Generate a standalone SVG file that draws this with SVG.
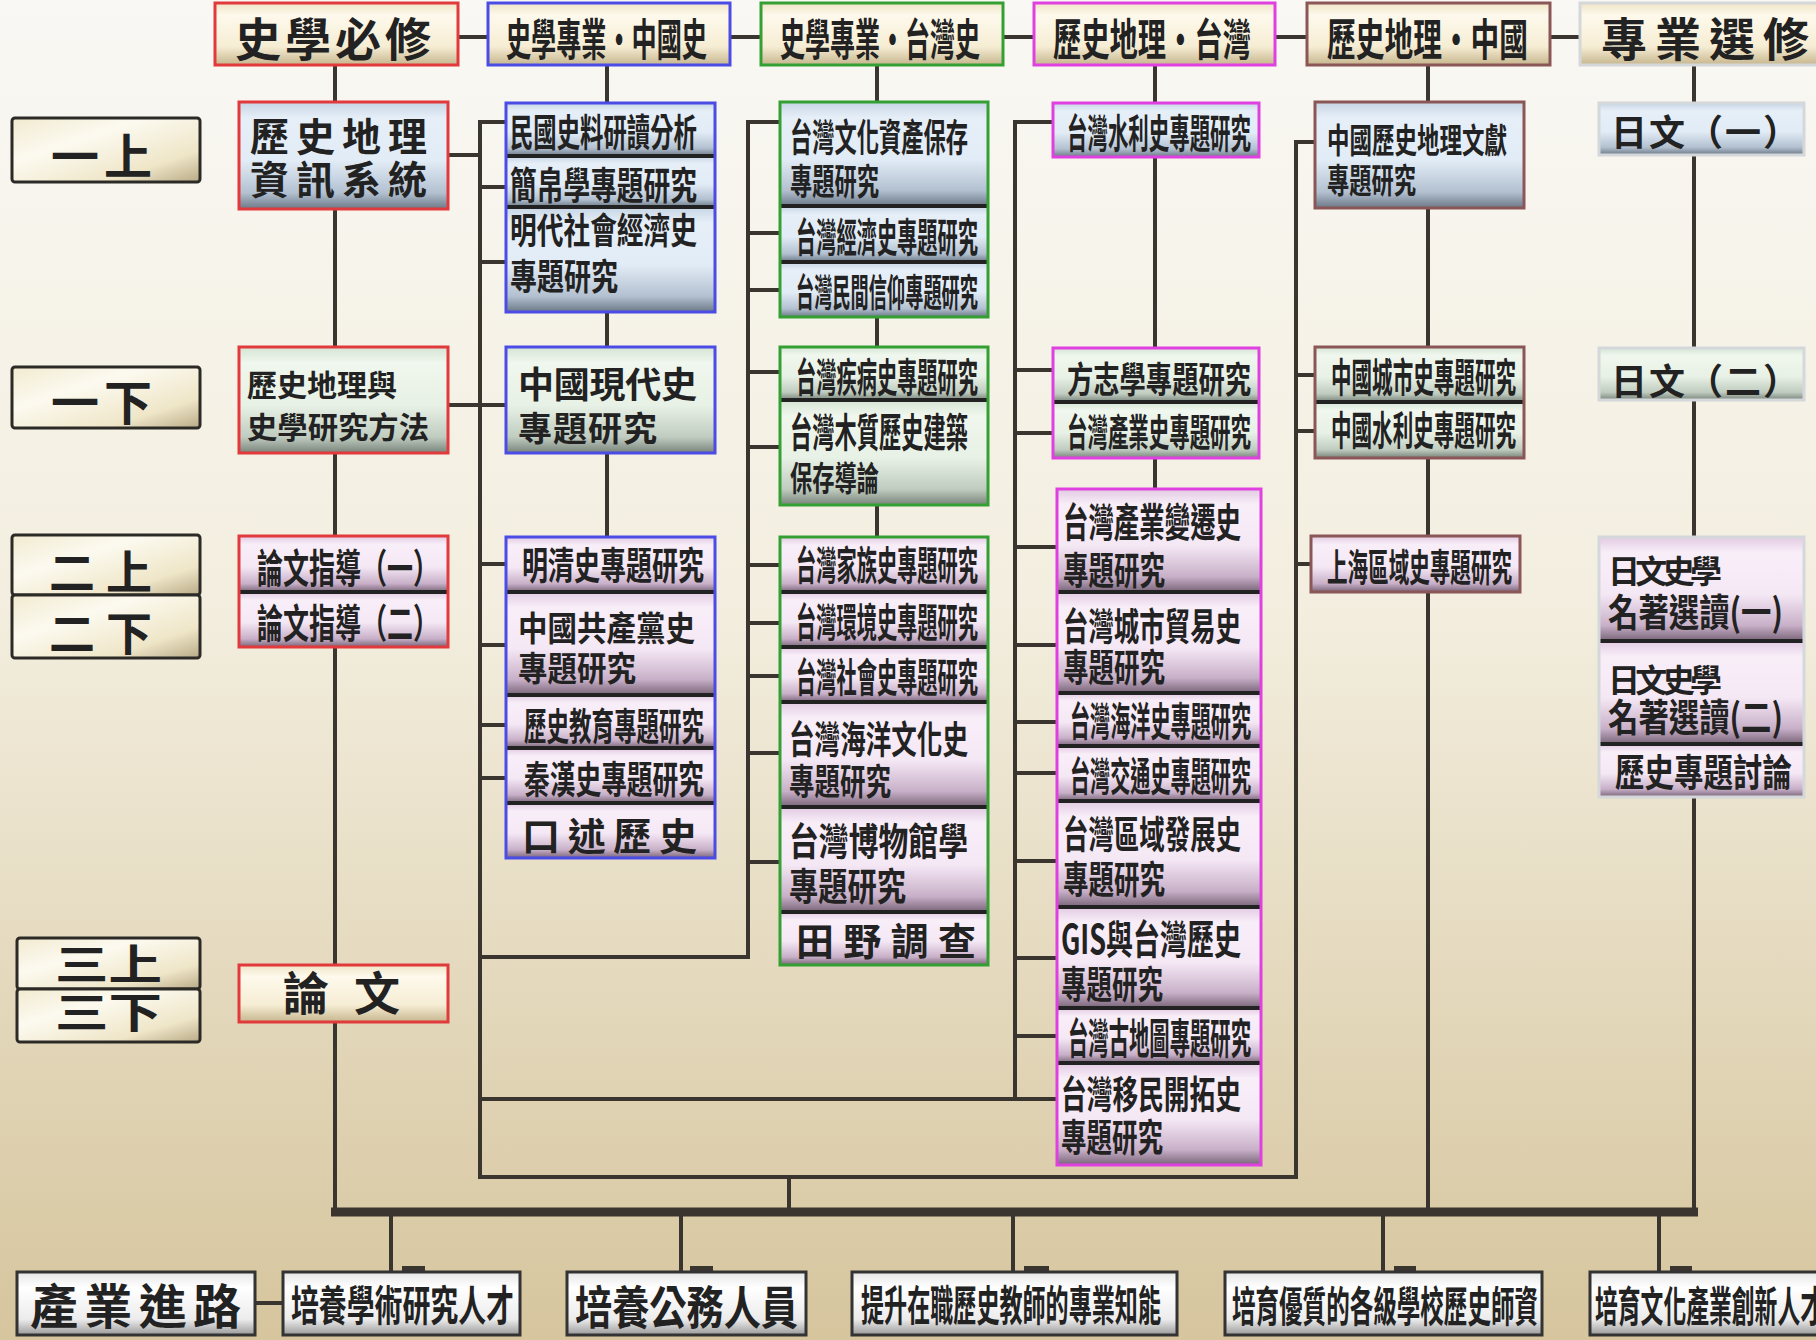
<svg xmlns="http://www.w3.org/2000/svg" width="1816" height="1340" viewBox="0 0 1816 1340">
<defs>
<linearGradient id="gBg" x1="0" y1="0" x2="0" y2="1">
<stop offset="0" stop-color="#f9f8f4"/><stop offset="0.45" stop-color="#f3eedf"/><stop offset="1" stop-color="#d6c59d"/>
</linearGradient>
<linearGradient id="gBlue" x1="0" y1="0" x2="0" y2="1">
<stop offset="0" stop-color="#c6d4e4"/><stop offset="0.15" stop-color="#e6eff8"/><stop offset="0.55" stop-color="#e2ecf6"/><stop offset="0.85" stop-color="#b2c0d0"/><stop offset="1" stop-color="#6c7886"/>
</linearGradient>
<linearGradient id="gGreen" x1="0" y1="0" x2="0" y2="1">
<stop offset="0" stop-color="#d4e4d4"/><stop offset="0.15" stop-color="#f0f7ee"/><stop offset="0.55" stop-color="#e8f1e6"/><stop offset="0.85" stop-color="#c0ccc0"/><stop offset="1" stop-color="#78847a"/>
</linearGradient>
<linearGradient id="gPink" x1="0" y1="0" x2="0" y2="1">
<stop offset="0" stop-color="#e2cae2"/><stop offset="0.15" stop-color="#f8eef8"/><stop offset="0.55" stop-color="#f5e8f5"/><stop offset="0.85" stop-color="#c8b0c8"/><stop offset="1" stop-color="#786478"/>
</linearGradient>
<linearGradient id="gCream" x1="0" y1="0" x2="0" y2="1">
<stop offset="0" stop-color="#efe4c6"/><stop offset="0.2" stop-color="#fdf9ec"/><stop offset="0.7" stop-color="#f6edd4"/><stop offset="1" stop-color="#c6b68e"/>
</linearGradient>
<linearGradient id="gYear" x1="0" y1="0" x2="1" y2="1">
<stop offset="0" stop-color="#f2ead0"/><stop offset="0.35" stop-color="#fcfaf0"/><stop offset="0.75" stop-color="#efe6c8"/><stop offset="1" stop-color="#b8aa86"/>
</linearGradient>
<linearGradient id="gWhite" x1="0" y1="0" x2="0" y2="1">
<stop offset="0" stop-color="#e6e6e6"/><stop offset="0.25" stop-color="#ffffff"/><stop offset="0.75" stop-color="#ececec"/><stop offset="1" stop-color="#9a9a9a"/>
</linearGradient>
</defs>
<style>
.t{font-family:"Noto Sans CJK TC","Noto Sans CJK SC",sans-serif;font-weight:700;fill:#222}
.blue{fill:url(#gBlue)}
.green{fill:url(#gGreen)}
.pink{fill:url(#gPink)}
.cream{fill:url(#gCream)}
.year{fill:url(#gYear);stroke:#2c2a26;stroke-width:3}
.white{fill:url(#gWhite);stroke:#333;stroke-width:3}
.div{stroke:#222;stroke-width:4;fill:none}
.bR{fill:none;stroke:#e23a3c;stroke-width:3}
.bB{fill:none;stroke:#4b4be6;stroke-width:3}
.bG{fill:none;stroke:#34a034;stroke-width:3}
.bM{fill:none;stroke:#e040e0;stroke-width:3}
.bN{fill:none;stroke:#8a5656;stroke-width:3}
.bL{fill:none;stroke:#d4d8da;stroke-width:3}
.ln{fill:none;stroke:#3a352e;stroke-width:4}
.bus{fill:none;stroke:#3a352e;stroke-width:9}
.tab{fill:#3a352e}
</style>
<rect x="0" y="0" width="1816" height="1340" fill="url(#gBg)"/>

<g id="connectors">
<path class="ln" d="M458 37H488M730 37H761M1003 37H1034M1275 37H1307M1550 37H1580"/>
<path class="ln" d="M335 65V102M335 209V347M335 453V536M335 647V965M335 1022V1212"/>
<path class="ln" d="M607 65V103M607 312V347M607 453V537"/>
<path class="ln" d="M877 65V102M877 317V347M877 505V537"/>
<path class="ln" d="M1155 65V103M1155 157V348M1155 458V489"/>
<path class="ln" d="M1428 65V102M1428 208V347M1428 458V536M1428 592V1212"/>
<path class="ln" d="M1694 65V103M1694 155V348M1694 400V537M1694 797V1212"/>
<path class="ln" d="M448 155H480M448 405H506"/>
<path class="ln" d="M506 122H480V1177H1296V142H1315"/>
<path class="ln" d="M480 187H506M480 262H506M480 564H506M480 645H506M480 725H506M480 778H506"/>
<path class="ln" d="M480 957H748V122H780"/>
<path class="ln" d="M748 233H780M748 290H780M748 372H780M748 447H780M748 565H780M748 623H780M748 676H780M748 753H780M748 862H780"/>
<path class="ln" d="M480 1099H1057M1015 1099V122H1053"/>
<path class="ln" d="M1015 370H1053M1015 433H1053M1015 547H1057M1015 645H1057M1015 722H1057M1015 773H1057M1015 861H1057M1015 958H1057M1015 1036H1057"/>
<path class="ln" d="M1296 375H1315M1296 431H1315M1296 564H1311"/>
<path class="ln" d="M789 1177V1212"/>
<path class="bus" d="M331 1212H1698"/>
<path class="ln" d="M391 1212V1272M681 1212V1272M1013 1212V1272M1383 1212V1272M1659 1212V1272"/>
<path class="ln" d="M255 1303H283"/>
<rect class="tab" x="402" y="1266" width="23" height="6"/>
<rect class="tab" x="690" y="1266" width="23" height="6"/>
<rect class="tab" x="1024" y="1266" width="25" height="6"/>
<rect class="tab" x="1394" y="1266" width="22" height="6"/>
<rect class="tab" x="1670" y="1266" width="22" height="6"/>
</g>

<!-- headers -->
<g id="h1"><rect class="cream" x="215" y="3" width="243" height="62"/><rect class="bR" x="215" y="3" width="243" height="62"/>
<text class="t" x="235" y="56" font-size="46" textLength="196" lengthAdjust="spacing">史學必修</text></g>
<g id="h2"><rect class="cream" x="488" y="3" width="242" height="62"/><rect class="bB" x="488" y="3" width="242" height="62"/>
<text class="t" x="506" y="56" font-size="44" textLength="201" lengthAdjust="spacingAndGlyphs">史學專業・中國史</text></g>
<g id="h3"><rect class="cream" x="761" y="3" width="242" height="62"/><rect class="bG" x="761" y="3" width="242" height="62"/>
<text class="t" x="780" y="56" font-size="44" textLength="200" lengthAdjust="spacingAndGlyphs">史學專業・台灣史</text></g>
<g id="h4"><rect class="cream" x="1034" y="3" width="241" height="62"/><rect class="bM" x="1034" y="3" width="241" height="62"/>
<text class="t" x="1053" y="56" font-size="44" textLength="198" lengthAdjust="spacingAndGlyphs">歷史地理・台灣</text></g>
<g id="h5"><rect class="cream" x="1307" y="3" width="243" height="62"/><rect class="bN" x="1307" y="3" width="243" height="62"/>
<text class="t" x="1327" y="56" font-size="44" textLength="201" lengthAdjust="spacingAndGlyphs">歷史地理・中國</text></g>
<g id="h6"><rect class="cream" x="1580" y="3" width="250" height="62"/><rect class="bL" x="1580" y="3" width="250" height="62"/>
<text class="t" x="1601" y="56" font-size="46" textLength="208" lengthAdjust="spacing">專業選修</text></g>

<!-- year labels -->
<g id="y1"><rect class="year" x="12" y="118" width="188" height="64" rx="3"/>
<text class="t" x="51" y="174" font-size="48" textLength="101" lengthAdjust="spacing">一上</text></g>
<g id="y2"><rect class="year" x="12" y="367" width="188" height="61" rx="3"/>
<text class="t" x="51" y="420" font-size="48" textLength="101" lengthAdjust="spacing">一下</text></g>
<g id="y3"><rect class="year" x="12" y="535" width="188" height="60" rx="3"/><rect class="year" x="12" y="595" width="188" height="63" rx="3"/>
<text class="t" x="49" y="589" font-size="46" textLength="103" lengthAdjust="spacing">二上</text>
<text class="t" x="49" y="650" font-size="46" textLength="103" lengthAdjust="spacing">二下</text></g>
<g id="y4"><rect class="year" x="17" y="938" width="183" height="51" rx="3"/><rect class="year" x="17" y="989" width="183" height="53" rx="3"/>
<text class="t" x="55" y="980" font-size="42" textLength="107" lengthAdjust="spacingAndGlyphs">三上</text>
<text class="t" x="55" y="1028" font-size="42" textLength="107" lengthAdjust="spacingAndGlyphs">三下</text></g>

<!-- column 1 -->
<g id="c1n1"><rect class="blue" x="239" y="102" width="209" height="107"/><rect class="bR" x="239" y="102" width="209" height="107"/>
<text class="t" x="250" y="151" font-size="39" textLength="177" lengthAdjust="spacing">歷史地理</text>
<text class="t" x="250" y="194" font-size="39" textLength="177" lengthAdjust="spacing">資訊系統</text></g>
<g id="c1n2"><rect class="green" x="239" y="347" width="209" height="106"/><rect class="bR" x="239" y="347" width="209" height="106"/>
<text class="t" x="247" y="396" font-size="30" textLength="150" lengthAdjust="spacingAndGlyphs">歷史地理與</text>
<text class="t" x="247" y="438" font-size="30" textLength="182" lengthAdjust="spacingAndGlyphs">史學研究方法</text></g>
<g id="c1n3"><rect class="pink" x="239" y="536" width="209" height="56"/><rect class="pink" x="239" y="592" width="209" height="55"/>
<path class="div" d="M239 592H448"/><rect class="bR" x="239" y="536" width="209" height="111"/>
<text class="t" x="257" y="583" font-size="40" textLength="182" lengthAdjust="spacingAndGlyphs">論文指導（一）</text>
<text class="t" x="257" y="638" font-size="40" textLength="182" lengthAdjust="spacingAndGlyphs">論文指導（二）</text></g>
<g id="c1n4"><rect class="cream" x="239" y="965" width="209" height="57"/><rect class="bR" x="239" y="965" width="209" height="57"/>
<text class="t" x="283" y="1010" font-size="46" textLength="117" lengthAdjust="spacing">論文</text></g>

<!-- column 2 -->
<g id="c2g1"><rect class="blue" x="506" y="103" width="209" height="53"/><rect class="blue" x="506" y="156" width="209" height="51"/><rect class="blue" x="506" y="207" width="209" height="105"/>
<path class="div" d="M506 156H715M506 207H715"/><rect class="bB" x="506" y="103" width="209" height="209"/>
<text class="t" x="510" y="146" font-size="38" textLength="187" lengthAdjust="spacingAndGlyphs">民國史料研讀分析</text>
<text class="t" x="510" y="199" font-size="38" textLength="187" lengthAdjust="spacingAndGlyphs">簡帛學專題研究</text>
<text class="t" x="510" y="244" font-size="36" textLength="187" lengthAdjust="spacingAndGlyphs">明代社會經濟史</text>
<text class="t" x="510" y="290" font-size="36" textLength="108" lengthAdjust="spacingAndGlyphs">專題研究</text></g>
<g id="c2n2"><rect class="green" x="506" y="347" width="209" height="106"/><rect class="bB" x="506" y="347" width="209" height="106"/>
<text class="t" x="518" y="398" font-size="36" textLength="179" lengthAdjust="spacing">中國現代史</text>
<text class="t" x="518" y="441" font-size="34" textLength="139" lengthAdjust="spacing">專題研究</text></g>
<g id="c2g3"><rect class="pink" x="506" y="537" width="209" height="55"/><rect class="pink" x="506" y="592" width="209" height="103"/><rect class="pink" x="506" y="695" width="209" height="53"/><rect class="pink" x="506" y="748" width="209" height="55"/><rect class="pink" x="506" y="803" width="209" height="55"/>
<path class="div" d="M506 592H715M506 695H715M506 748H715M506 803H715"/><rect class="bB" x="506" y="537" width="209" height="321"/>
<text class="t" x="522" y="579" font-size="38" textLength="182" lengthAdjust="spacingAndGlyphs">明清史專題研究</text>
<text class="t" x="518" y="641" font-size="34" textLength="177" lengthAdjust="spacingAndGlyphs">中國共產黨史</text>
<text class="t" x="518" y="681" font-size="34" textLength="118" lengthAdjust="spacingAndGlyphs">專題研究</text>
<text class="t" x="524" y="740" font-size="38" textLength="180" lengthAdjust="spacingAndGlyphs">歷史教育專題研究</text>
<text class="t" x="524" y="793" font-size="38" textLength="180" lengthAdjust="spacingAndGlyphs">秦漢史專題研究</text>
<text class="t" x="522" y="850" font-size="38" textLength="175" lengthAdjust="spacing">口述歷史</text></g>

<!-- column 3 -->
<g id="c3g1"><rect class="blue" x="780" y="102" width="208" height="104"/><rect class="blue" x="780" y="206" width="208" height="56"/><rect class="blue" x="780" y="262" width="208" height="55"/>
<path class="div" d="M780 206H988M780 262H988"/><rect class="bG" x="780" y="102" width="208" height="215"/>
<text class="t" x="790" y="151" font-size="38" textLength="178" lengthAdjust="spacingAndGlyphs">台灣文化資產保存</text>
<text class="t" x="790" y="195" font-size="36" textLength="89" lengthAdjust="spacingAndGlyphs">專題研究</text>
<text class="t" x="796" y="252" font-size="40" textLength="182" lengthAdjust="spacingAndGlyphs">台灣經濟史專題研究</text>
<text class="t" x="796" y="306" font-size="38" textLength="182" lengthAdjust="spacingAndGlyphs">台灣民間信仰專題研究</text></g>
<g id="c3g2"><rect class="green" x="780" y="347" width="208" height="53"/><rect class="green" x="780" y="400" width="208" height="105"/>
<path class="div" d="M780 400H988"/><rect class="bG" x="780" y="347" width="208" height="158"/>
<text class="t" x="796" y="392" font-size="40" textLength="182" lengthAdjust="spacingAndGlyphs">台灣疾病史專題研究</text>
<text class="t" x="790" y="447" font-size="40" textLength="178" lengthAdjust="spacingAndGlyphs">台灣木質歷史建築</text>
<text class="t" x="790" y="491" font-size="34" textLength="89" lengthAdjust="spacingAndGlyphs">保存導論</text></g>
<g id="c3g3"><rect class="pink" x="780" y="537" width="208" height="55"/><rect class="pink" x="780" y="592" width="208" height="55"/><rect class="pink" x="780" y="647" width="208" height="55"/><rect class="pink" x="780" y="702" width="208" height="105"/><rect class="pink" x="780" y="807" width="208" height="105"/><rect class="pink" x="780" y="912" width="208" height="53"/>
<path class="div" d="M780 592H988M780 647H988M780 702H988M780 807H988M780 912H988"/><rect class="bG" x="780" y="537" width="208" height="428"/>
<text class="t" x="796" y="580" font-size="40" textLength="182" lengthAdjust="spacingAndGlyphs">台灣家族史專題研究</text>
<text class="t" x="796" y="637" font-size="40" textLength="182" lengthAdjust="spacingAndGlyphs">台灣環境史專題研究</text>
<text class="t" x="796" y="692" font-size="40" textLength="182" lengthAdjust="spacingAndGlyphs">台灣社會史專題研究</text>
<text class="t" x="789" y="753" font-size="38" textLength="179" lengthAdjust="spacingAndGlyphs">台灣海洋文化史</text>
<text class="t" x="789" y="795" font-size="36" textLength="102" lengthAdjust="spacingAndGlyphs">專題研究</text>
<text class="t" x="789" y="855" font-size="38" textLength="179" lengthAdjust="spacingAndGlyphs">台灣博物館學</text>
<text class="t" x="789" y="900" font-size="38" textLength="117" lengthAdjust="spacingAndGlyphs">專題研究</text>
<text class="t" x="796" y="955" font-size="38" textLength="180" lengthAdjust="spacing">田野調查</text></g>

<!-- column 4 -->
<g id="c4n1"><rect class="blue" x="1053" y="103" width="206" height="54"/><rect class="bM" x="1053" y="103" width="206" height="54"/>
<text class="t" x="1067" y="148" font-size="40" textLength="184" lengthAdjust="spacingAndGlyphs">台灣水利史專題研究</text></g>
<g id="c4g2"><rect class="green" x="1053" y="348" width="206" height="54"/><rect class="green" x="1053" y="402" width="206" height="56"/>
<path class="div" d="M1053 402H1259"/><rect class="bM" x="1053" y="348" width="206" height="110"/>
<text class="t" x="1067" y="393" font-size="36" textLength="184" lengthAdjust="spacingAndGlyphs">方志學專題研究</text>
<text class="t" x="1067" y="446" font-size="38" textLength="184" lengthAdjust="spacingAndGlyphs">台灣產業史專題研究</text></g>
<g id="c4g3"><rect class="pink" x="1057" y="489" width="204" height="103"/><rect class="pink" x="1057" y="592" width="204" height="101"/><rect class="pink" x="1057" y="693" width="204" height="53"/><rect class="pink" x="1057" y="746" width="204" height="55"/><rect class="pink" x="1057" y="801" width="204" height="106"/><rect class="pink" x="1057" y="907" width="204" height="101"/><rect class="pink" x="1057" y="1008" width="204" height="55"/><rect class="pink" x="1057" y="1063" width="204" height="102"/>
<path class="div" d="M1057 592H1261M1057 693H1261M1057 746H1261M1057 801H1261M1057 907H1261M1057 1008H1261M1057 1063H1261"/><rect class="bM" x="1057" y="489" width="204" height="676"/>
<text class="t" x="1063" y="537" font-size="40" textLength="178" lengthAdjust="spacingAndGlyphs">台灣產業變遷史</text>
<text class="t" x="1063" y="584" font-size="38" textLength="102" lengthAdjust="spacingAndGlyphs">專題研究</text>
<text class="t" x="1063" y="640" font-size="38" textLength="178" lengthAdjust="spacingAndGlyphs">台灣城市貿易史</text>
<text class="t" x="1063" y="681" font-size="38" textLength="102" lengthAdjust="spacingAndGlyphs">專題研究</text>
<text class="t" x="1070" y="736" font-size="40" textLength="181" lengthAdjust="spacingAndGlyphs">台灣海洋史專題研究</text>
<text class="t" x="1070" y="791" font-size="40" textLength="181" lengthAdjust="spacingAndGlyphs">台灣交通史專題研究</text>
<text class="t" x="1063" y="848" font-size="38" textLength="178" lengthAdjust="spacingAndGlyphs">台灣區域發展史</text>
<text class="t" x="1063" y="893" font-size="38" textLength="102" lengthAdjust="spacingAndGlyphs">專題研究</text>
<text class="t" x="1061" y="954" font-size="40" textLength="180" lengthAdjust="spacingAndGlyphs">GIS與台灣歷史</text>
<text class="t" x="1061" y="998" font-size="38" textLength="102" lengthAdjust="spacingAndGlyphs">專題研究</text>
<text class="t" x="1068" y="1054" font-size="42" textLength="183" lengthAdjust="spacingAndGlyphs">台灣古地圖專題研究</text>
<text class="t" x="1061" y="1108" font-size="38" textLength="180" lengthAdjust="spacingAndGlyphs">台灣移民開拓史</text>
<text class="t" x="1061" y="1151" font-size="38" textLength="102" lengthAdjust="spacingAndGlyphs">專題研究</text></g>

<!-- column 5 -->
<g id="c5n1"><rect class="blue" x="1315" y="102" width="209" height="106"/><rect class="bN" x="1315" y="102" width="209" height="106"/>
<text class="t" x="1327" y="153" font-size="34" textLength="180" lengthAdjust="spacingAndGlyphs">中國歷史地理文獻</text>
<text class="t" x="1327" y="193" font-size="34" textLength="89" lengthAdjust="spacingAndGlyphs">專題研究</text></g>
<g id="c5g2"><rect class="green" x="1315" y="347" width="209" height="55"/><rect class="green" x="1315" y="402" width="209" height="56"/>
<path class="div" d="M1315 402H1524"/><rect class="bN" x="1315" y="347" width="209" height="111"/>
<text class="t" x="1331" y="392" font-size="40" textLength="185" lengthAdjust="spacingAndGlyphs">中國城市史專題研究</text>
<text class="t" x="1331" y="445" font-size="40" textLength="185" lengthAdjust="spacingAndGlyphs">中國水利史專題研究</text></g>
<g id="c5n3"><rect class="pink" x="1311" y="536" width="209" height="56"/><rect class="bN" x="1311" y="536" width="209" height="56"/>
<text class="t" x="1327" y="581" font-size="38" textLength="185" lengthAdjust="spacingAndGlyphs">上海區域史專題研究</text></g>

<!-- column 6 -->
<g id="c6n1"><rect class="blue" x="1599" y="103" width="205" height="52"/><rect class="bL" x="1599" y="103" width="205" height="52"/>
<text class="t" x="1611" y="146" font-size="36" textLength="188" lengthAdjust="spacing">日文（一）</text></g>
<g id="c6n2"><rect class="green" x="1599" y="348" width="205" height="52"/><rect class="bL" x="1599" y="348" width="205" height="52"/>
<text class="t" x="1611" y="395" font-size="36" textLength="188" lengthAdjust="spacing">日文（二）</text></g>
<g id="c6g3"><rect class="pink" x="1599" y="537" width="205" height="104"/><rect class="pink" x="1599" y="641" width="205" height="103"/><rect class="pink" x="1599" y="744" width="205" height="53"/>
<path class="div" d="M1599 641H1804M1599 744H1804"/><rect class="bL" x="1599" y="537" width="205" height="260"/>
<text class="t" x="1608" y="583" font-size="32" textLength="114" lengthAdjust="spacing">日文史學</text>
<text class="t" x="1608" y="626" font-size="38" textLength="175" lengthAdjust="spacingAndGlyphs">名著選讀(一)</text>
<text class="t" x="1608" y="692" font-size="32" textLength="114" lengthAdjust="spacing">日文史學</text>
<text class="t" x="1608" y="731" font-size="38" textLength="175" lengthAdjust="spacingAndGlyphs">名著選讀(二)</text>
<text class="t" x="1615" y="786" font-size="38" textLength="177" lengthAdjust="spacingAndGlyphs">歷史專題討論</text></g>

<!-- bottom -->
<g id="b1"><rect class="white" x="17" y="1272" width="238" height="63"/>
<text class="t" x="30" y="1324" font-size="48" textLength="211" lengthAdjust="spacing">產業進路</text></g>
<g id="b2"><rect class="white" x="283" y="1272" width="237" height="63"/>
<text class="t" x="291" y="1321" font-size="42" textLength="223" lengthAdjust="spacingAndGlyphs">培養學術研究人才</text></g>
<g id="b3"><rect class="white" x="567" y="1272" width="239" height="63"/>
<text class="t" x="575" y="1324" font-size="46" textLength="223" lengthAdjust="spacingAndGlyphs">培養公務人員</text></g>
<g id="b4"><rect class="white" x="852" y="1272" width="325" height="63"/>
<text class="t" x="861" y="1321" font-size="42" textLength="300" lengthAdjust="spacingAndGlyphs">提升在職歷史教師的專業知能</text></g>
<g id="b5"><rect class="white" x="1225" y="1272" width="317" height="63"/>
<text class="t" x="1232" y="1322" font-size="42" textLength="306" lengthAdjust="spacingAndGlyphs">培育優質的各級學校歷史師資</text></g>
<g id="b6"><rect class="white" x="1590" y="1272" width="240" height="63"/>
<text class="t" x="1595" y="1322" font-size="42" textLength="228" lengthAdjust="spacingAndGlyphs">培育文化產業創新人才</text></g>
</svg>
